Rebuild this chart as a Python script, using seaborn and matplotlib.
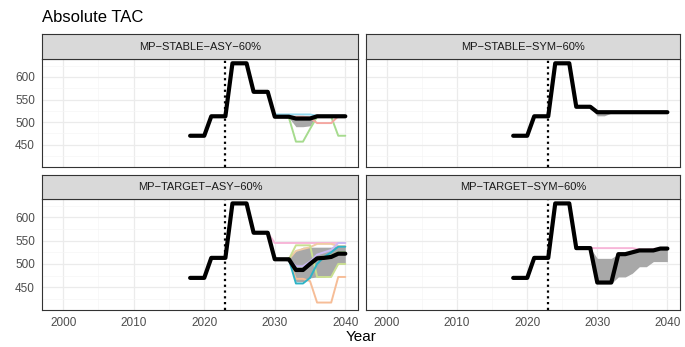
import matplotlib
matplotlib.use("Agg")
import matplotlib.pyplot as plt
import seaborn as sns
import pandas as pd

# ----------------------------------------------------------------------
# Data
# ----------------------------------------------------------------------
PANELS = ["MP\u2212STABLE\u2212ASY\u221260%", "MP\u2212STABLE\u2212SYM\u221260%",
          "MP\u2212TARGET\u2212ASY\u221260%", "MP\u2212TARGET\u2212SYM\u221260%"]

HIST_YEARS = list(range(2018, 2030))
PROJ_YEARS = list(range(2030, 2041))
SCEN_YEARS = list(range(2029, 2041))
TAC_START = 2023

HIST_ASY = [470, 470, 470, 513, 513, 513, 630, 630, 630, 567, 567, 567]
HIST_SYM = [470, 470, 470, 513, 513, 513, 630, 630, 630, 534, 534, 534]

MAIN_STABLE_ASY = [512, 512, 512, 508, 508, 508, 513, 513, 513, 513, 513]
MAIN_STABLE_SYM = [522, 522, 522, 522, 522, 522, 522, 522, 522, 522, 522]
MAIN_TARGET_ASY = [510, 510, 510, 487, 487, 500, 512, 513, 515, 522, 522]
MAIN_TARGET_SYM = [460, 460, 460, 521, 521, 525, 529, 529, 529, 533, 533]

# 2029-2040 ribbons (lower / upper)
LO_STABLE_ASY = [567, 512, 512, 510, 490, 490, 492, 513, 511, 511, 511, 511]
HI_STABLE_ASY = [567, 514, 514, 514, 514, 514, 514, 515, 515, 515, 515, 515]
LO_STABLE_SYM = [534, 514, 514, 520, 522, 522, 522, 522, 522, 522, 522, 522]
HI_STABLE_SYM = [534, 523, 523, 523, 523, 523, 523, 523, 523, 523, 523, 523]
LO_TARGET_ASY = [567, 510, 510, 505, 462, 462, 470, 472, 472, 475, 500, 500]
HI_TARGET_ASY = [567, 510, 510, 515, 528, 536, 536, 536, 536, 536, 540, 540]
LO_TARGET_SYM = [534, 460, 458, 458, 472, 472, 480, 494, 494, 505, 505, 505]
HI_TARGET_SYM = [534, 512, 512, 512, 521, 521, 525, 529, 529, 530, 533, 533]

# individual operating-model lines, 2029-2040
SCEN_STABLE_ASY = {
    "cyan": [567, 517, 517, 517, 517, 517, 517, 514, 514, 514, 514, 514],
    "green": [567, 512, 512, 510, 457, 457, 485, 512, 512, 512, 470, 470],
    "salmon": [567, 512, 512, 512, 512, 512, 510, 498, 498, 498, 513, 513],
}
SCEN_STABLE_SYM = {}
SCEN_TARGET_ASY = {
    "pink": [567, 545, 545, 545, 545, 545, 545, 545, 545, 545, 545, 545],
    "tan": [567, 510, 510, 510, 528, 532, 536, 543, 543, 543, 538, 538],
    "yellowgreen": [567, 510, 510, 510, 540, 540, 540, 472, 472, 472, 500, 500],
    "orange": [567, 510, 510, 510, 468, 468, 463, 417, 417, 417, 472, 472],
    "green": [567, 510, 510, 510, 490, 490, 500, 512, 515, 518, 525, 525],
    "purple": [567, 510, 510, 510, 495, 495, 505, 520, 525, 530, 545, 545],
    "teal": [567, 510, 510, 510, 458, 458, 470, 500, 515, 525, 537, 537],
}
SCEN_TARGET_SYM = {
    "pink": [534, 534, 534, 534, 534, 534, 534, 531, 531, 532, 534, 534],
}

SCEN_COLORS = {"cyan": "#93D9EF", "green": "#A6DB8E", "salmon": "#F4A7A1",
               "pink": "#F7B6D8", "tan": "#F1CBA4", "yellowgreen": "#CADF91",
               "orange": "#F6BD97", "purple": "#C9B9F4", "teal": "#2DB3C6"}

PANEL_DATA = [
    (HIST_ASY, MAIN_STABLE_ASY, LO_STABLE_ASY, HI_STABLE_ASY, SCEN_STABLE_ASY),
    (HIST_SYM, MAIN_STABLE_SYM, LO_STABLE_SYM, HI_STABLE_SYM, SCEN_STABLE_SYM),
    (HIST_ASY, MAIN_TARGET_ASY, LO_TARGET_ASY, HI_TARGET_ASY, SCEN_TARGET_ASY),
    (HIST_SYM, MAIN_TARGET_SYM, LO_TARGET_SYM, HI_TARGET_SYM, SCEN_TARGET_SYM),
]

# ----------------------------------------------------------------------
# Layout (pixel boxes of the 685x347 figure)
# ----------------------------------------------------------------------
W, H = 685, 347
PANEL_BOX = [(42, 59, 358, 167), (366, 59, 680, 167),
             (42, 199, 358, 310), (366, 199, 680, 310)]
STRIP_H = [25, 25, 24, 24]

sns.set_theme(style="white")
plt.rcParams["font.family"] = ["Liberation Sans", "DejaVu Sans"]

fig = plt.figure(figsize=(W / 100, H / 100), dpi=100)


def fig_rect(l, t, r, b):
    return [l / W, 1 - b / H, (r - l) / W, (b - t) / H]


for i, (title, (hist, main, lo, hi, scen)) in enumerate(zip(PANELS, PANEL_DATA)):
    l, t, r, b = PANEL_BOX[i]
    ax = fig.add_axes(fig_rect(l, t, r, b))

    # strip
    sax = fig.add_axes(fig_rect(l, t - STRIP_H[i], r, t))
    sax.set_facecolor("#D9D9D9")
    sax.set_xticks([])
    sax.set_yticks([])
    for sp in sax.spines.values():
        sp.set_color("#333333")
        sp.set_linewidth(0.8)
    sax.text(0.5, 0.5, title, ha="center", va="center", fontsize=8,
             color="#1A1A1A", transform=sax.transAxes)

    # grid
    ax.set_xticks(range(2000, 2041, 10))
    ax.set_xticks(range(2005, 2041, 10), minor=True)
    ax.set_yticks([450, 500, 550, 600])
    ax.set_yticks([425, 475, 525, 575, 625], minor=True)
    ax.grid(which="major", color="#EBEBEB", linewidth=0.9)
    ax.grid(which="minor", color="#F5F5F5", linewidth=0.5)
    ax.set_axisbelow(True)

    # ribbon
    ax.fill_between(SCEN_YEARS, lo, hi, color="#A8A8A8", linewidth=0, zorder=2)

    # operating model lines
    if scen:
        sdf = pd.DataFrame([
            {"Year": y, "TAC": v, "OM": name}
            for name, vals in scen.items() for y, v in zip(SCEN_YEARS, vals)
        ])
        sns.lineplot(data=sdf, x="Year", y="TAC", hue="OM", palette=SCEN_COLORS,
                     linewidth=1.4, legend=False, ax=ax, zorder=3)

    # median line
    mdf = pd.DataFrame({"Year": HIST_YEARS + PROJ_YEARS, "TAC": hist + main})
    sns.lineplot(data=mdf, x="Year", y="TAC", color="black", linewidth=3.0,
                 ax=ax, zorder=4)

    ax.axvline(TAC_START, color="black", linestyle=(0, (1, 1.6)),
               linewidth=1.6, zorder=5)

    ax.set_xlim(1997, 2041.8)
    ax.set_ylim(401, 639.5)
    ax.set_xlabel("")
    ax.set_ylabel("")
    for sp in ax.spines.values():
        sp.set_color("#333333")
        sp.set_linewidth(0.8)
    ax.tick_params(axis="both", which="major", length=3, width=0.6,
                   color="#333333", labelsize=8.5, labelcolor="#4D4D4D", pad=2)
    ax.tick_params(axis="both", which="minor", length=0)
    if i < 2:
        ax.tick_params(axis="x", labelbottom=False, length=0)
    if i % 2 == 1:
        ax.tick_params(axis="y", labelleft=False, length=0)

fig.text(42 / W, 1 - 17 / H, "Absolute TAC", fontsize=12, ha="left",
         va="center", color="black")
fig.text((42 + 680) / 2 / W, 1 - 337 / H, "Year", fontsize=11, ha="center",
         va="center", color="black")

fig.savefig("out.png", dpi=100, facecolor="white")
